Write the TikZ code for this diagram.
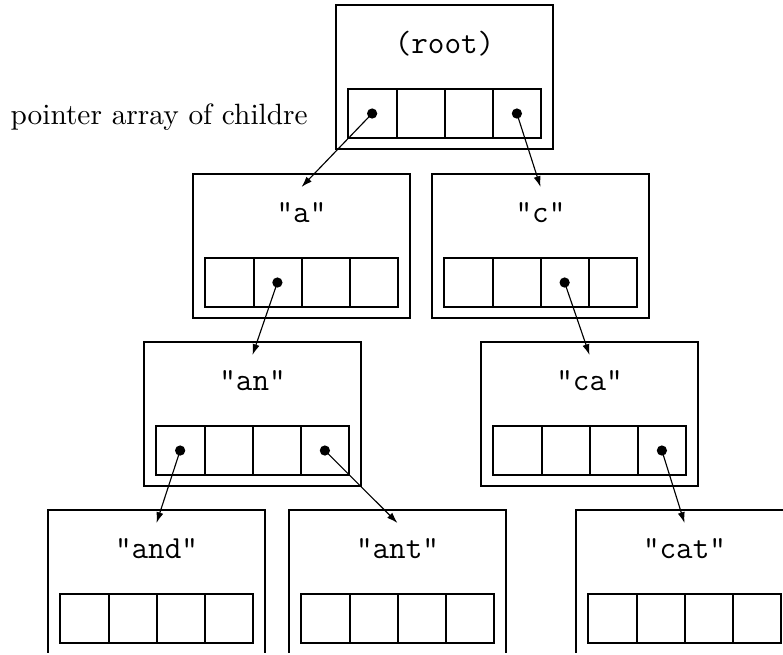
\documentclass[tikz,border=0pt]{standalone}
\usetikzlibrary{arrows.meta}
\tikzset{
  tbox/.style={draw, line width=0.4pt, inner sep=0pt, minimum width=76.17pt, minimum height=50.54pt},
  tcell/.style={draw, line width=0.4pt, inner sep=0pt, minimum width=16.94pt, minimum height=17.2pt},
  tdiv/.style={line width=0.75pt},
  tlabel/.style={font=\fontsize{11.3}{13}\selectfont\ttfamily, inner sep=1pt},
  ptr/.style={line width=0.4pt, -{Latex[length=3.8pt,width=2.5pt]}},
  tdot/.style={fill=black}
}
\newcommand\trienode[4]{%
  \node[tbox] (#1) at ({#2+108.5},{#3+72}) {};
  \node[tlabel] (#1-t) at ({#2+108.5},{#3+39}) {#4};
  \foreach \i in {1,...,4} {
    \node[tcell] (#1-c\i) at ({#2+12+48.25*(\i-0.5)},{#3+84+24.5}) {};
  }
  \foreach \i in {1,2,3} {
    \draw[tdiv] (#1-c\i.north east) -- (#1-c\i.south east);
  }
  \coordinate (#1-in) at ({#2+108.5},{#3+13});
}
\begin{document}
\begin{tikzpicture}[x=0.351pt,y=-0.351pt]
\useasboundingbox (0,0) rectangle (783,654);
\clip (0,0) rectangle (783,652.5);
\trienode{root}{336}{5}{(root)}
\trienode{a}{193}{174}{"a"}
\trienode{c}{432}{174}{"c"}
\trienode{an}{144}{342}{"an"}
\trienode{ca}{481}{342}{"ca"}
\trienode{and}{48}{510}{"and"}
\trienode{ant}{289}{510}{"ant"}
\trienode{cat}{576}{510}{"cat"}
\node[anchor=west, inner sep=0pt, font=\fontsize{10.3}{12}\selectfont] (lbl) at (10,117) {pointer array of childre};
\foreach \s/\t in {root-c1/a, root-c4/c, a-c2/an, c-c3/ca, an-c1/and, an-c4/ant, ca-c4/cat} {
  \fill[tdot] (\s.center) circle[radius=1.8pt];
  \draw[ptr] (\s.center) -- (\t-in);
}
\end{tikzpicture}
\end{document}
